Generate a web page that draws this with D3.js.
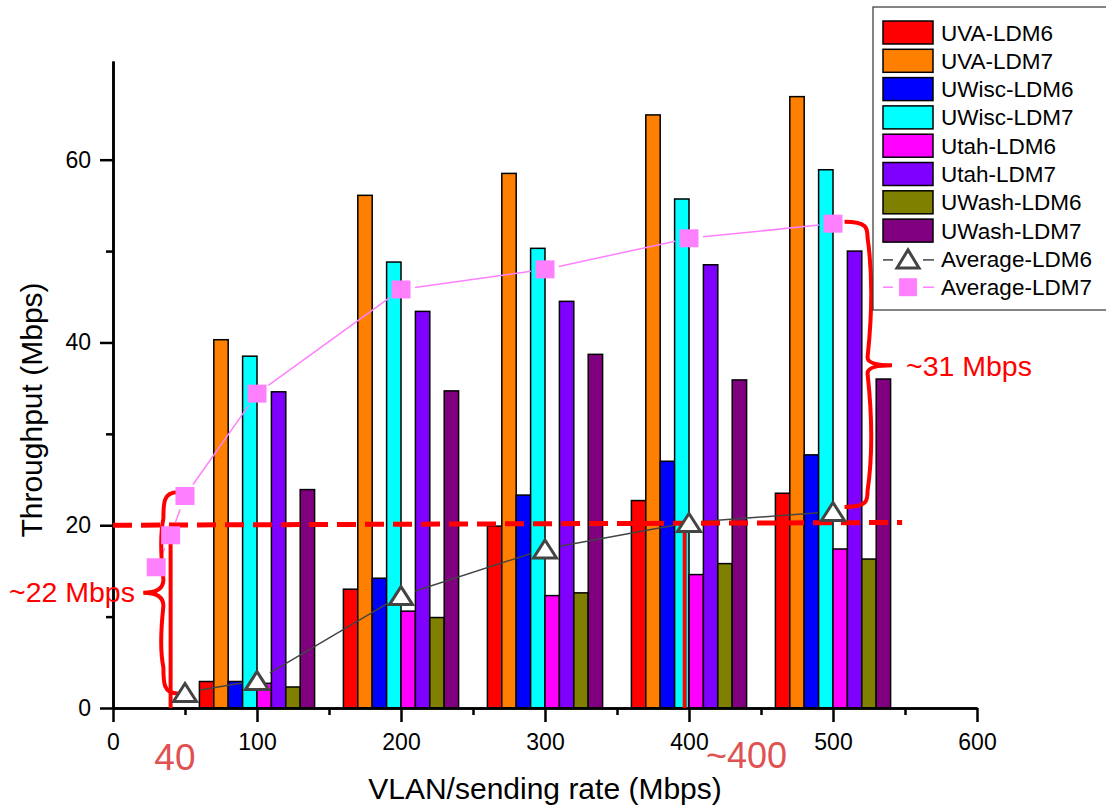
<!DOCTYPE html>
<html>
  <head>
    <style>
      body {
        margin: 0;
        background: #fff;
      }
      svg {
        display: block;
        font-family: "Liberation Sans", Arial, sans-serif;
      }
      .axis path, .axis line {
        stroke: #000;
        stroke-width: 2.5px;
      }
      .axis text {
        font-size: 23px;
        fill: #000;
      }
      .bar {
        stroke: #000;
        stroke-width: 1.5px;
      }
    </style>
  </head>
  <body>
    <script src="https://d3js.org/d3.v7.min.js"></script>
    <script>
      // sending rates of the bar groups
      const categories = [100, 200, 300, 400, 500];

      const seriesNames = ["UVA-LDM6", "UVA-LDM7", "UWisc-LDM6", "UWisc-LDM7",
          "Utah-LDM6", "Utah-LDM7", "UWash-LDM6", "UWash-LDM7"];
      const seriesColors = ["#ff0000", "#ff8000", "#0000ff", "#00ffff",
          "#ff00ff", "#8000ff", "#808000", "#800080"];

      const uvaLdm6   = [2.9, 13.0, 19.9, 22.7, 23.5];
      const uvaLdm7   = [40.3, 56.1, 58.5, 64.9, 66.9];
      const uwiscLdm6 = [2.9, 14.2, 23.3, 27.0, 27.7];
      const uwiscLdm7 = [38.5, 48.8, 50.3, 55.7, 58.9];
      const utahLdm6  = [2.7, 10.6, 12.3, 14.6, 17.4];
      const utahLdm7  = [34.6, 43.4, 44.5, 48.5, 50.0];
      const uwashLdm6 = [2.3, 9.9, 12.6, 15.8, 16.3];
      const uwashLdm7 = [23.9, 34.7, 38.7, 35.9, 36.0];

      const barSeries = [uvaLdm6, uvaLdm7, uwiscLdm6, uwiscLdm7,
          utahLdm6, utahLdm7, uwashLdm6, uwashLdm7];

      // averages (line series)
      const avgLdm6X = [50, 100, 200, 300, 400, 500];
      const avgLdm6Y = [1.7, 3.0, 12.3, 17.4, 20.3, 21.5];
      const avgLdm7X = [30, 40, 50, 100, 200, 300, 400, 500];
      const avgLdm7Y = [15.4, 18.9, 23.2, 34.4, 45.8, 48.0, 51.4, 53.0];

      const xTicks = [0, 100, 200, 300, 400, 500, 600];
      const xMinorTicks = [50, 150, 250, 350, 450, 550];
      const yTicks = [0, 20, 40, 60];
      const yMinorTicks = [10, 30, 50];

      const width = 1106, height = 808;
      const barWidth = 10; // in x units

      const svg = d3.select("body").append("svg")
          .attr("width", width)
          .attr("height", height);

      const x = d3.scaleLinear().domain([0, 600]).range([113, 977]);
      const y = d3.scaleLinear().domain([0, 70.8]).range([708, 61]);

      // bars
      barSeries.forEach((values, i) => {
        svg.append("g").selectAll("rect")
            .data(values)
          .enter().append("rect")
            .attr("class", "bar")
            .attr("x", (d, j) => x(categories[j] + (i - 4) * barWidth))
            .attr("width", x(barWidth) - x(0))
            .attr("y", d => y(d))
            .attr("height", d => y(0) - y(d))
            .style("fill", seriesColors[i]);
      });

      // axes
      svg.append("g")
          .attr("class", "axis")
          .attr("transform", `translate(0,${y(0)})`)
          .call(d3.axisBottom(x).tickValues(xMinorTicks).tickSize(7).tickSizeOuter(0).tickFormat(""));
      const xAxis = svg.append("g")
          .attr("class", "axis")
          .attr("transform", `translate(0,${y(0)})`)
          .call(d3.axisBottom(x).tickValues(xTicks).tickSize(14).tickSizeOuter(0).tickPadding(12));
      xAxis.selectAll("text").attr("dy", "0.71em");

      svg.append("g")
          .attr("class", "axis")
          .attr("transform", `translate(${x(0)},0)`)
          .call(d3.axisLeft(y).tickValues(yMinorTicks).tickSize(7).tickSizeOuter(0).tickFormat(""));
      svg.append("g")
          .attr("class", "axis")
          .attr("transform", `translate(${x(0)},0)`)
          .call(d3.axisLeft(y).tickValues(yTicks).tickSize(13).tickSizeOuter(0).tickPadding(9));

      // axis titles
      svg.append("text")
          .attr("x", (x(0) + x(600)) / 2)
          .attr("y", 799)
          .attr("text-anchor", "middle")
          .style("font-size", "30px")
          .text("VLAN/sending rate (Mbps)");

      svg.append("text")
          .attr("transform", "translate(42,410) rotate(-90)")
          .attr("text-anchor", "middle")
          .style("font-size", "30px")
          .text("Throughput (Mbps)");

      // lines with small gaps around the markers
      function gappedSegments(xs, ys, gap){
        const pts = xs.map((d, i) => [x(d), y(ys[i])]);
        const segs = [];
        for (let i = 0; i < pts.length - 1; i++){
          const [x0, y0] = pts[i], [x1, y1] = pts[i + 1];
          const len = Math.hypot(x1 - x0, y1 - y0);
          if (len <= gap * 2) continue;
          const ux = (x1 - x0) / len, uy = (y1 - y0) / len;
          segs.push([x0 + ux * gap, y0 + uy * gap, x1 - ux * gap, y1 - uy * gap]);
        }
        return segs;
      }

      function trianglePath(cx, cy, w, h){
        return `M${cx},${cy - h / 2}L${cx + w / 2},${cy + h / 2}L${cx - w / 2},${cy + h / 2}Z`;
      }

      svg.append("g").selectAll("line")
          .data(gappedSegments(avgLdm6X, avgLdm6Y, 15))
        .enter().append("line")
          .attr("x1", d => d[0]).attr("y1", d => d[1])
          .attr("x2", d => d[2]).attr("y2", d => d[3])
          .style("stroke", "#444")
          .style("stroke-width", 1.5);

      svg.append("g").selectAll("line")
          .data(gappedSegments(avgLdm7X, avgLdm7Y, 14))
        .enter().append("line")
          .attr("x1", d => d[0]).attr("y1", d => d[1])
          .attr("x2", d => d[2]).attr("y2", d => d[3])
          .style("stroke", "#ff80ff")
          .style("stroke-width", 1.5);

      // annotations (drawn under markers)
      const red = "#ff0000";
      svg.append("line")
          .attr("x1", x(0)).attr("y1", y(20.0))
          .attr("x2", x(548)).attr("y2", y(20.3))
          .style("stroke", red)
          .style("stroke-width", 5)
          .style("stroke-dasharray", "19,9");

      svg.append("line")
          .attr("x1", x(40)).attr("y1", y(0))
          .attr("x2", x(40)).attr("y2", y(19.2))
          .style("stroke", red)
          .style("stroke-width", 4);

      svg.append("line")
          .attr("x1", x(397)).attr("y1", y(0))
          .attr("x2", x(397)).attr("y2", y(19.6))
          .style("stroke", red)
          .style("stroke-width", 4);

      // curly brace: hooks at xHook, spine at xSpine, point at xTip
      function brace(xHook, xSpine, xTip, yTop, yBottom, yTip, r){
        const b = (xSpine - xHook) * 0.35;
        return `M${xHook},${yTop}` +
            `C${xSpine},${yTop} ${xSpine},${yTop + r * 0.4} ${xSpine},${yTop + r}` +
            `C${xSpine + b},${(yTop + yTip) / 2} ${xSpine},${yTip - r * 0.6} ${xSpine},${yTip - r * 0.5}` +
            `Q${xSpine},${yTip} ${xTip},${yTip}` +
            `Q${xSpine},${yTip} ${xSpine},${yTip + r * 0.5}` +
            `C${xSpine},${yTip + r * 0.6} ${xSpine + b},${(yTip + yBottom) / 2} ${xSpine},${yBottom - r}` +
            `C${xSpine},${yBottom - r * 0.4} ${xSpine},${yBottom} ${xHook},${yBottom}`;
      }

      svg.append("path")
          .attr("d", brace(x(45), x(35), x(21), y(23.6), y(1.6), y(12.6), 26))
          .style("fill", "none")
          .style("stroke", red)
          .style("stroke-width", 4);

      svg.append("path")
          .attr("d", brace(x(508), x(524), x(541), y(53.2), y(22.0), y(37.5), 16))
          .style("fill", "none")
          .style("stroke", red)
          .style("stroke-width", 4);

      // markers
      svg.append("g").selectAll("path")
          .data(avgLdm6X)
        .enter().append("path")
          .attr("d", (d, i) => trianglePath(x(d), y(avgLdm6Y[i]), 23, 18))
          .style("fill", "#fff")
          .style("stroke", "#444")
          .style("stroke-width", 3);

      svg.append("g").selectAll("rect")
          .data(avgLdm7X)
        .enter().append("rect")
          .attr("x", d => x(d) - 9.5)
          .attr("y", (d, i) => y(avgLdm7Y[i]) - 9)
          .attr("width", 19)
          .attr("height", 18)
          .style("fill", "#ff80ff");

      // annotation texts
      svg.append("text")
          .attr("x", 9).attr("y", 602)
          .style("font-size", "28.5px")
          .style("fill", red)
          .text("~22 Mbps");

      svg.append("text")
          .attr("x", 906).attr("y", 376)
          .style("font-size", "28.5px")
          .style("fill", red)
          .text("~31 Mbps");

      svg.append("text")
          .attr("x", x(43)).attr("y", 770)
          .attr("text-anchor", "middle")
          .style("font-size", "37px")
          .style("fill", "#e05252")
          .text("40");

      svg.append("text")
          .attr("x", 706).attr("y", 768)
          .style("font-size", "36px")
          .style("fill", "#e05252")
          .text("~400");

      // legend
      const legend = svg.append("g");
      legend.append("rect")
          .attr("x", 873).attr("y", 7)
          .attr("width", 240).attr("height", 303)
          .style("fill", "#fff")
          .style("stroke", "#333")
          .style("stroke-width", 1.2);

      const rowY = i => 32.5 + i * 28.3;

      seriesNames.forEach((name, i) => {
        legend.append("rect")
            .attr("x", 883).attr("y", rowY(i) - 11.5)
            .attr("width", 50).attr("height", 23)
            .style("fill", seriesColors[i])
            .style("stroke", "#000")
            .style("stroke-width", 1.5);
      });

      // line entries
      [[883, 893], [923, 934]].forEach(s => {
        legend.append("line")
            .attr("x1", s[0]).attr("x2", s[1])
            .attr("y1", rowY(8) + 1).attr("y2", rowY(8) + 1)
            .style("stroke", "#444").style("stroke-width", 1.5);
        legend.append("line")
            .attr("x1", s[0]).attr("x2", s[1])
            .attr("y1", rowY(9)).attr("y2", rowY(9))
            .style("stroke", "#ff80ff").style("stroke-width", 1.5);
      });
      legend.append("path")
          .attr("d", trianglePath(908, rowY(8), 22, 18))
          .style("fill", "#fff")
          .style("stroke", "#444")
          .style("stroke-width", 3);
      legend.append("rect")
          .attr("x", 899).attr("y", rowY(9) - 9)
          .attr("width", 18).attr("height", 18)
          .style("fill", "#ff80ff");

      legend.selectAll("text")
          .data(seriesNames.concat(["Average-LDM6", "Average-LDM7"]))
        .enter().append("text")
          .attr("x", 941)
          .attr("y", (d, i) => rowY(i) + 8)
          .style("font-size", "22.5px")
          .text(d => d);
    </script>
  </body>
</html>
